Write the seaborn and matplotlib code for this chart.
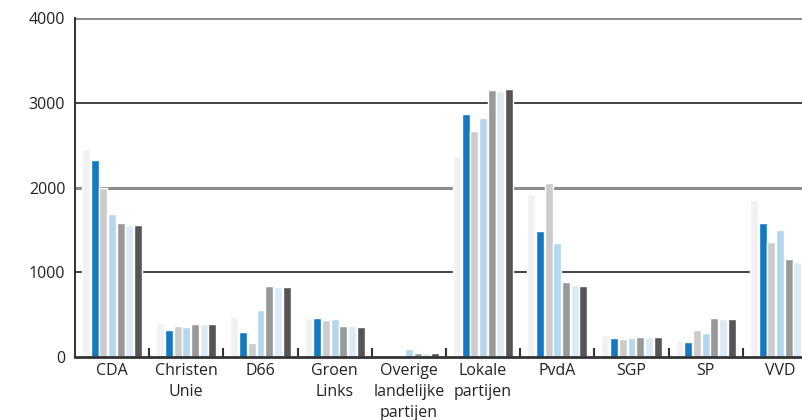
import pandas as pd
import matplotlib
matplotlib.use("Agg")
import matplotlib.pyplot as plt
import matplotlib.transforms as mtransforms
import seaborn as sns

CHART_FILE = 'out.png'

# Parties on the x axis (wrapped the way the reference shows them)
parties = ['CDA', 'Christen\nUnie', 'D66', 'Groen\nLinks', 'Overige\nlandelijke\npartijen',
           'Lokale\npartijen', 'PvdA', 'SGP', 'SP', 'VVD']

# Seven series per party
series = ['1', '2', '3', '4', '5', '6', '7']
s1 = [2450, 400, 480, 460, 0, 2370, 1920, 260, 185, 1850]
s2 = [2330, 320, 295, 460, 0, 2870, 1490, 220, 177, 1580]
s3 = [2000, 365, 165, 437, 0, 2670, 2055, 210, 315, 1357]
s4 = [1690, 355, 555, 448, 94, 2820, 1345, 220, 280, 1498]
s5 = [1580, 390, 838, 366, 47, 3150, 885, 236, 460, 1156]
s6 = [1560, 390, 830, 366, 47, 3140, 850, 236, 448, 1121]
s7 = [1560, 390, 826, 354, 47, 3160, 838, 236, 448, 1100]

colors = ['#f2f2f2', '#1479c2', '#cccccc', '#b3d7ef', '#999999', '#daebf7', '#555555']

rows = []
for name, vals in zip(series, [s1, s2, s3, s4, s5, s6, s7]):
    for p, v in zip(parties, vals):
        rows.append({'partij': p, 'reeks': name, 'zetels': v})
df = pd.DataFrame(rows)

sns.set_style("white")
plt.rcParams['font.family'] = ['Open Sans', 'DejaVu Sans']

fig = plt.figure(figsize=(8.03, 4.2), dpi=100)
ax = fig.add_axes([75 / 803, 63 / 420, 742 / 803, 339 / 420])

sns.barplot(data=df, x='partij', y='zetels', hue='reeks', order=parties,
            hue_order=series, palette=colors, width=0.82, gap=0.08,
            saturation=1, legend=False, errorbar=None, ax=ax)
for bar in ax.patches:
    bar.set_zorder(3)

# Horizontal reference lines behind the bars
ax.axhline(4000, color='#8c8c8c', lw=2.2, zorder=1)
ax.axhline(2000, color='#8c8c8c', lw=2.2, zorder=1)
ax.axhline(1000, color='#222222', lw=1.2, zorder=1)
ax.axhline(3000, color='#222222', lw=1.2, zorder=1)

ax.set_ylim(0, 4000)
ax.set_xlim(-0.5, len(parties) - 0.5)
ax.set_yticks([0, 1000, 2000, 3000, 4000])
ax.set_xlabel('')
ax.set_ylabel('')

for side in ['top', 'right']:
    ax.spines[side].set_visible(False)
ax.spines['left'].set_color('#333333')
ax.spines['left'].set_linewidth(1.4)
ax.spines['bottom'].set_color('#333333')
ax.spines['bottom'].set_linewidth(2)
ax.spines['bottom'].set_zorder(4)

# small separators between the party groups, standing up from the axis
trans = mtransforms.blended_transform_factory(ax.transData, ax.transAxes)
seps = [i + 0.5 for i in range(len(parties) - 1)]
ax.vlines(seps, 0, 0.028, transform=trans, color='#333333', lw=1.5, zorder=5,
          clip_on=False)

ax.tick_params(axis='x', which='both', length=0, pad=4, labelsize=11.5, labelcolor='#222222')
ax.tick_params(axis='y', length=0, pad=7, labelsize=11.5, labelcolor='#222222')
for lbl in ax.get_xticklabels():
    lbl.set_linespacing(1.45)

plt.savefig(CHART_FILE, dpi=100)
